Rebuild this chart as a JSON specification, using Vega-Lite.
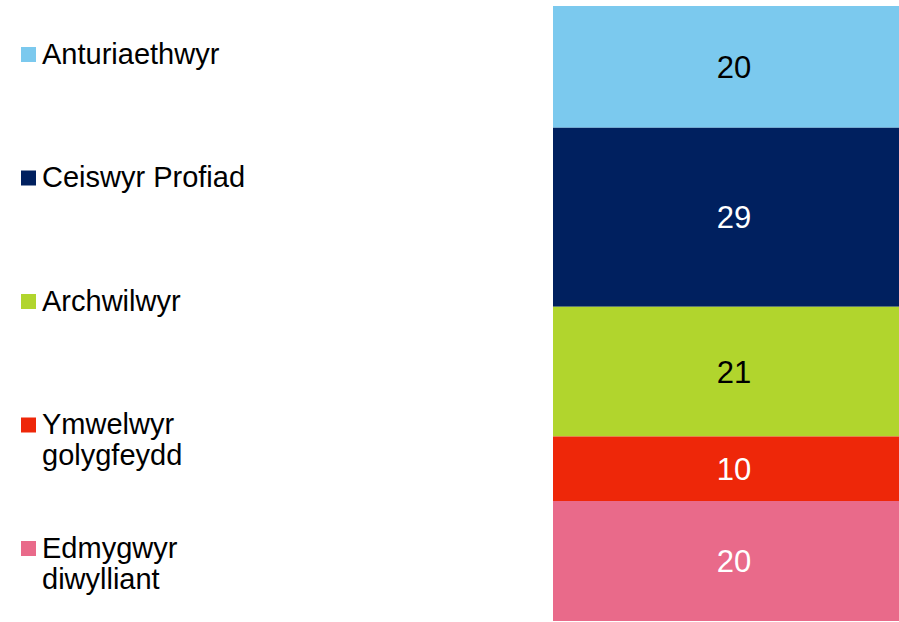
{
  "$schema": "https://vega.github.io/schema/vega-lite/v6.json",
  "autosize": "none",
  "width": 346,
  "height": 615,
  "padding": {"left": 553, "top": 6, "right": 0, "bottom": 1},
  "background": "white",
  "config": {"view": {"stroke": null}},
  "data": {
    "values": [
      {"group": "Anturiaethwyr", "value": 19.8, "rank": 1},
      {"group": "Ceiswyr Profiad", "value": 29.1, "rank": 2},
      {"group": "Archwilwyr", "value": 21.1, "rank": 3},
      {"group": "Ymwelwyr golygfeydd", "value": 10.49, "rank": 4},
      {"group": "Edmygwyr diwylliant", "value": 19.51, "rank": 5}
    ]
  },
  "transform": [
    {"stack": "value", "groupby": [], "sort": [{"field": "rank", "order": "ascending"}], "as": ["y0", "y1"]},
    {"calculate": "(datum.y0 + datum.y1) / 2", "as": "mid"}
  ],
  "layer": [
    {
      "mark": {"type": "bar"},
      "encoding": {
        "x": {"datum": "all", "type": "nominal", "axis": null, "scale": {"paddingInner": 0, "paddingOuter": 0}},
        "y": {"field": "y0", "type": "quantitative", "axis": null, "scale": {"domain": [0, 100], "reverse": true, "nice": false, "zero": true}},
        "y2": {"field": "y1"},
        "color": {
          "field": "group",
          "type": "nominal",
          "scale": {
            "domain": ["Anturiaethwyr", "Ceiswyr Profiad", "Archwilwyr", "Ymwelwyr golygfeydd", "Edmygwyr diwylliant"],
            "range": ["#7BC9EE", "#00205F", "#B1D52D", "#EE2709", "#E96A8A"]
          },
          "legend": {
            "title": null,
            "orient": "none",
            "legendX": -539,
            "legendY": 34,
            "padding": 0,
            "gridAlign": "all",
            "symbolType": "square",
            "symbolSize": 225,
            "symbolStrokeWidth": 0,
            "symbolOpacity": 1,
            "labelFont": "Liberation Sans",
            "labelFontSize": 29,
            "labelColor": "black",
            "labelOffset": -1,
            "labelLimit": 0,
            "rowPadding": 62.5,
            "labelExpr": "datum.label == 'Ymwelwyr golygfeydd' ? ['Ymwelwyr', 'golygfeydd'] : datum.label == 'Edmygwyr diwylliant' ? ['Edmygwyr', 'diwylliant'] : datum.label"
          }
        }
      }
    },
    {
      "mark": {"type": "text", "font": "Liberation Sans", "fontSize": 31, "baseline": "middle", "align": "center", "dx": 8, "dy": 2},
      "encoding": {
        "x": {"datum": "all", "type": "nominal"},
        "y": {"field": "mid", "type": "quantitative"},
        "text": {"field": "value", "type": "quantitative", "format": ".0f"},
        "color": {
          "condition": {"test": "datum.group == 'Anturiaethwyr' || datum.group == 'Archwilwyr'", "value": "black"},
          "value": "white"
        }
      }
    }
  ]
}
